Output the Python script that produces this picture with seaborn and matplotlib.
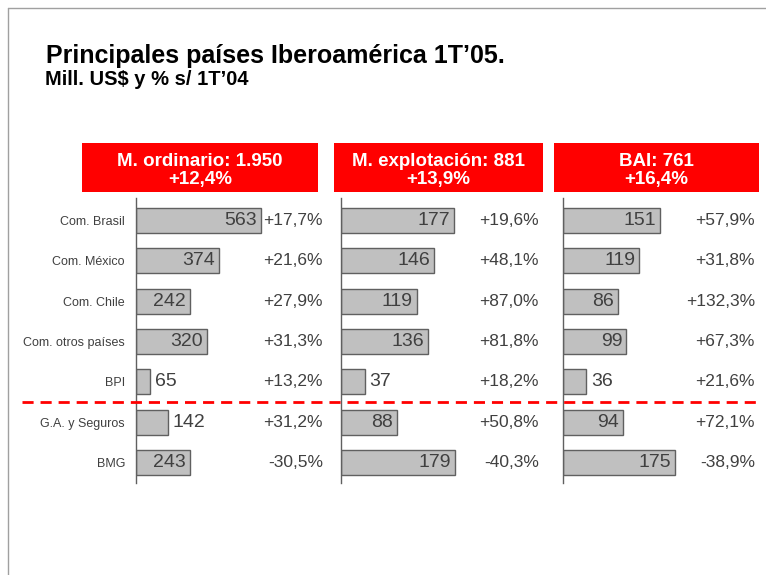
import matplotlib
matplotlib.use('Agg')
import matplotlib.pyplot as plt
import matplotlib.transforms as mtrans
from matplotlib.patches import Rectangle
from matplotlib.lines import Line2D
import seaborn as sns
import pandas as pd

sns.set_theme(style='white')
plt.rcParams['font.family'] = ['Liberation Sans', 'DejaVu Sans']

# Data
CATEGORIES = ['Com. Brasil', 'Com. México', 'Com. Chile', 'Com. otros países',
              'BPI', 'G.A. y Seguros', 'BMG']
ORDINARIO = [563, 374, 242, 320, 65, 142, 243]
ORDINARIO_PCT = ['+17,7%', '+21,6%', '+27,9%', '+31,3%', '+13,2%', '+31,2%', '-30,5%']
EXPLOTACION = [177, 146, 119, 136, 37, 88, 179]
EXPLOTACION_PCT = ['+19,6%', '+48,1%', '+87,0%', '+81,8%', '+18,2%', '+50,8%', '-40,3%']
BAI = [151, 119, 86, 99, 36, 94, 175]
BAI_PCT = ['+57,9%', '+31,8%', '+132,3%', '+67,3%', '+21,6%', '+72,1%', '-38,9%']
HEADERS = [('M. ordinario: 1.950', '+12,4%'),
           ('M. explotación: 881', '+13,9%'),
           ('BAI: 761', '+16,4%')]

TEXT = '#404040'
W, H = 766, 575

fig = plt.figure(figsize=(W / 100, H / 100), dpi=100)
fig.patch.set_facecolor('white')

# slide border
fig.add_artist(Line2D([8 / W, 8 / W], [0, 1 - 8 / H], color='#A0A0A0', lw=1))
fig.add_artist(Line2D([8 / W, 1], [1 - 8 / H, 1 - 8 / H], color='#A0A0A0', lw=1))

fig.text(46 / W, 1 - 63 / H, 'Principales países Iberoamérica 1T’05.',
         fontsize=18, fontweight='bold', color='black', va='baseline')
fig.text(45 / W, 1 - 85 / H, 'Mill. US\\$ y % s/ 1T’04',
         fontsize=14.5, fontweight='bold', color='black', va='baseline')

# panel geometry in pixels: axis left, axis right, header box left/right, pct pos
panels = [
    (ORDINARIO, ORDINARIO_PCT, 136, 330, 82, 318, 323),
    (EXPLOTACION, EXPLOTACION_PCT, 341, 545, 334, 543, 539),
    (BAI, BAI_PCT, 563, 760, 554, 759, 755),
]
px_scale = [125 / 563, 113 / 177, 112 / 175]

ax_top, ax_bot = 198, 483
axes = []
for i, (vals, pcts, xl, xr, bl, br, pr) in enumerate(panels):
    ax = fig.add_axes([xl / W, 1 - ax_bot / H, (xr - xl) / W, (ax_bot - ax_top) / H])
    df = pd.DataFrame({'cat': CATEGORIES, 'val': vals})
    sns.barplot(data=df, x='val', y='cat', orient='h', ax=ax, color='#C0C0C0',
                edgecolor='#606060', linewidth=1, width=0.62, saturation=1)
    xmax = (xr - xl) / px_scale[i]
    ax.set_xlim(0, xmax)
    ax.set_ylim(6.5, -0.55)
    ax.set_xlabel('')
    ax.set_ylabel('')
    ax.set_xticks([])
    for s in ['top', 'right', 'bottom']:
        ax.spines[s].set_visible(False)
    ax.spines['left'].set_color('#606060')
    ax.spines['left'].set_linewidth(1)
    if i == 0:
        ax.tick_params(axis='y', length=0, labelsize=9, labelcolor=TEXT, pad=8)
    else:
        ax.set_yticklabels([])
        ax.tick_params(axis='y', length=0)

    trans = mtrans.blended_transform_factory(ax.transAxes, ax.transData)
    for j, (v, p) in enumerate(zip(vals, pcts)):
        bar_px = v * px_scale[i]
        if bar_px > 40:
            ax.text(v - 4 / px_scale[i], j, str(v), ha='right', va='center',
                    fontsize=14, color=TEXT)
        else:
            ax.text(v + 5 / px_scale[i], j, str(v), ha='left', va='center',
                    fontsize=14, color=TEXT)
        ax.text((pr - xl) / (xr - xl), j, p, ha='right', va='center',
                fontsize=12.5, color=TEXT, transform=trans)

    # red header box
    fig.add_artist(Rectangle((bl / W, 1 - 192 / H), (br - bl) / W, 49 / H,
                             transform=fig.transFigure, facecolor='#FF0000',
                             edgecolor='none'))
    cx = (bl + br) / 2 / W
    fig.text(cx, 1 - 166 / H, HEADERS[i][0], ha='center', va='baseline',
             fontsize=13.5, fontweight='bold', color='white')
    fig.text(cx, 1 - 184 / H, HEADERS[i][1], ha='center', va='baseline',
             fontsize=13.5, fontweight='bold', color='white')
    axes.append(ax)

# dashed separator between BPI and G.A. y Seguros
sep = mtrans.blended_transform_factory(fig.transFigure, axes[0].transData)
fig.add_artist(Line2D([22 / W, 757 / W], [4.5, 4.5], transform=sep,
                      color='#FF0000', lw=2, linestyle=(0, (4, 2.5))))

fig.savefig('out.png', dpi=100)
